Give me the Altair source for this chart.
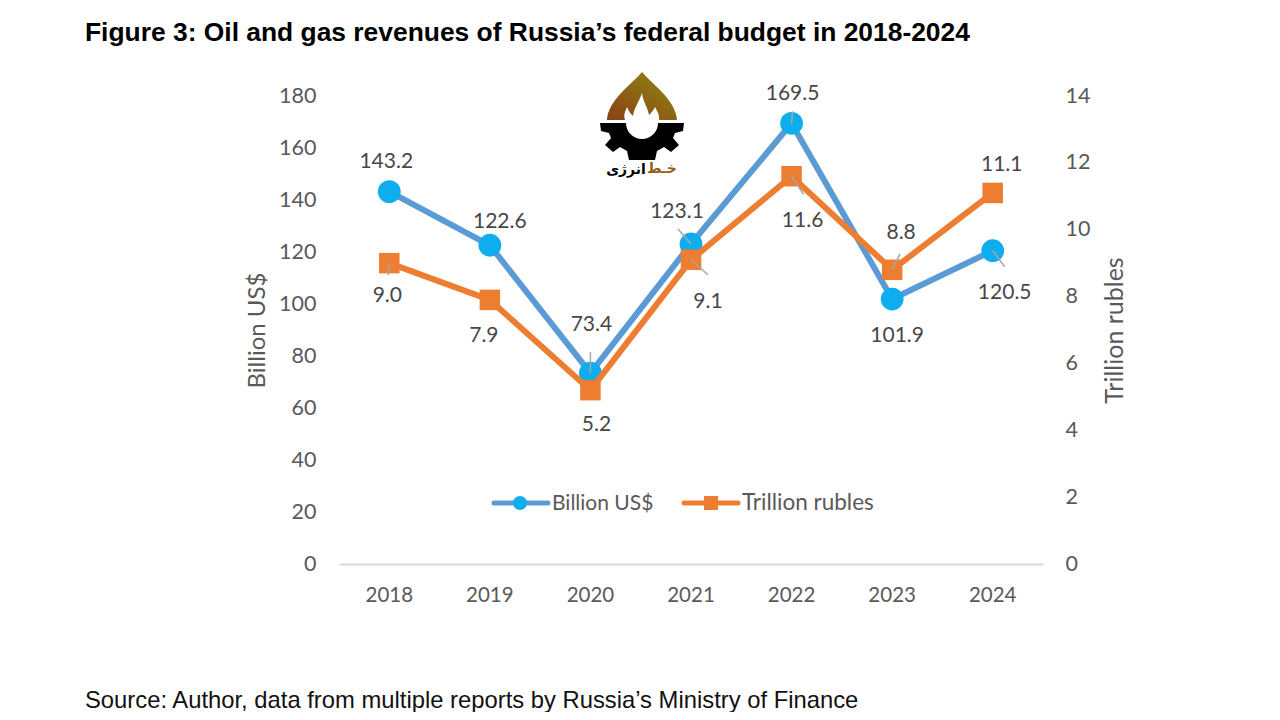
import altair as alt
import pandas as pd

years = ["2018", "2019", "2020", "2021", "2022", "2023", "2024"]
usd = [143.2, 122.6, 73.4, 123.1, 169.5, 101.9, 120.5]
rub = [9.0, 7.9, 5.2, 9.1, 11.6, 8.8, 11.1]
usd_labels = ["143.2", "122.6", "73.4", "123.1", "169.5", "101.9", "120.5"]
rub_labels = ["9.0", "7.9", "5.2", "9.1", "11.6", "8.8", "11.1"]

title_text = "Figure 3: Oil and gas revenues of Russia\u2019s federal budget in 2018-2024"
source_text = "Source: Author, data from multiple reports by Russia\u2019s Ministry of Finance"

# layout (label offsets and leader-line offsets, px)
USD_OFF = [(-3, -30), (10, -23), (1, -48), (-14, -32), (1, -29), (5, 37), (12, 42)]
RUB_OFF = [(-2, 33), (-6, 36), (6, 35), (17, 42), (11, 45), (9, -37), (9, -28)]
USD_LEAD = {2: (0, -21), 3: (-13, -15), 4: (1, -12), 6: (12, 16)}
RUB_LEAD = {0: (-1, 12), 3: (17, 15), 4: (12, 18), 5: (8, -16)}

BLUE_LINE, BLUE_DOT = "#5B9BD5", "#0EAEEE"
ORANGE = "#ED7D31"
AXIS_TEXT, LABEL_TEXT = "#595959", "#474747"
FONT = "Lato"
SANS = "Liberation Sans"

usd_df = pd.DataFrame({"year": years, "v": usd, "t": usd_labels})
rub_df = pd.DataFrame({"year": years, "v": rub, "t": rub_labels})

X = alt.X("year:N", scale=alt.Scale(type="band", paddingInner=0, paddingOuter=0),
          sort=None,
          axis=alt.Axis(title=None, labelAngle=0, labelFont=FONT, labelFontSize=20.5,
                        labelColor=AXIS_TEXT, labelPadding=21, ticks=False,
                        domainColor="#D9D9D9", domainWidth=2, grid=False))


def y_enc(domain, axis):
    return alt.Y("v:Q", scale=alt.Scale(domain=domain, nice=False, zero=True), axis=axis)


Y_L = y_enc([0, 180], alt.Axis(orient="left", title="Billion US$", values=list(range(0, 181, 20)),
                               grid=False, domain=False, ticks=False, labelFont=FONT,
                               labelFontSize=21.5, labelColor=AXIS_TEXT, labelPadding=23,
                               titleFont=FONT, titleFontSize=24, titleFontWeight="normal",
                               titleColor=AXIS_TEXT, titlePadding=9, titleY=234))
Y_R = y_enc([0, 14], alt.Axis(orient="right", title="Trillion rubles", values=list(range(0, 15, 2)),
                              grid=False, domain=False, ticks=False, labelFont=FONT,
                              labelFontSize=21.5, labelColor=AXIS_TEXT, labelPadding=22,
                              titleFont=FONT, titleFontSize=25, titleFontWeight="normal",
                              titleColor=AXIS_TEXT, titleAngle=270, titlePadding=38, titleY=234))


def series(df, y, offs, leads, line_color, point):
    layers = [
        alt.Chart(df).mark_line(color=line_color, strokeWidth=6).encode(x=X, y=y),
        alt.Chart(df).mark_point(filled=True, opacity=1, **point).encode(x=X, y=y),
    ]
    for i, (dx, dy) in enumerate(offs):
        layers.append(
            alt.Chart(df.iloc[[i]]).mark_text(dx=dx, dy=dy, font=FONT, fontSize=21, color=LABEL_TEXT)
            .encode(x=X, y=y, text="t:N"))
    for i, (dx, dy) in leads.items():
        layers.append(
            alt.Chart(df.iloc[[i]]).mark_rule(color="#A6A6A6", strokeWidth=1.5, x2Offset=dx, y2Offset=dy)
            .encode(x=X, x2="year:N", y=y, y2="v:Q"))
    return alt.layer(*layers).resolve_scale(y="shared")


left = series(usd_df, Y_L, USD_OFF, USD_LEAD, BLUE_LINE,
              dict(shape="circle", size=520, color=BLUE_DOT))
right = series(rub_df, Y_R, RUB_OFF, RUB_LEAD, ORANGE,
               dict(shape="square", size=420, color=ORANGE))


def note(text, x, y, **kw):
    return alt.Chart(pd.DataFrame({"t": [text]})).mark_text(**kw).encode(
        x=alt.value(x), y=alt.value(y), text="t:N")


def px_rule(x1, x2, y, color):
    return alt.Chart(pd.DataFrame({"a": [0]})).mark_rule(color=color, strokeWidth=5, strokeCap="round").encode(
        x=alt.value(x1), x2=alt.value(x2), y=alt.value(y))


def glyph(path, x, y, **kw):
    return alt.Chart(pd.DataFrame({"a": [0]})).mark_point(
        shape=path, size=4, filled=True, opacity=1, **kw).encode(x=alt.value(x), y=alt.value(y))


LOGO_X, LOGO_Y = 303, 26
ROOF = "M0 -50 C-10 -38 -34 -22 -35 -2 L35 -2 C34 -22 10 -38 0 -50 Z"
FLAME = ("M-17 -2 C-19 -8 -16 -12 -15 -15 C-13 -10 -11 -8 -9 -6 C-8 -14 -3 -20 0 -29 "
         "C1 -20 6 -14 7 -7 C9 -9 11 -11 13 -15 C15 -11 18 -7 17 -2 Z")
GEAR = ("M-42 1 L-16 1 A16 16 0 0 0 16 1 L42 1 L41 9 L33 11 L31 16 L37 23 L29 30 L22 25 L15 29 "
        "L13 38 L-13 38 L-15 29 L-22 25 L-29 30 L-37 23 L-31 16 L-33 11 L-41 9 Z")
roof_fill = alt.LinearGradient(gradient="linear", x1=0, y1=1, x2=1, y2=0,
                               stops=[alt.GradientStop(offset=0, color="#8A4015"),
                                      alt.GradientStop(offset=1, color="#8F8A12")])

extras = [
    note(title_text, -254, -63, font=SANS, fontWeight="bold", fontSize=26.4, color="#000000", align="left"),
    note(source_text, -254, 605, font=SANS, fontSize=23.8, color="#111111", align="left"),
    glyph(ROOF, LOGO_X, LOGO_Y, color="#8A5A14", fill=roof_fill),
    glyph(FLAME, LOGO_X, LOGO_Y, color="#FFFFFF"),
    glyph(GEAR, LOGO_X, LOGO_Y, color="#000000"),
    note("\u0627\u0646\u0631\u0698\u06cc", 287, 74, font="DejaVu Sans", fontWeight="bold", fontSize=14, color="#000000"),
    note("\u062e\u0640\u0637", 323, 73, font="DejaVu Sans", fontWeight="bold", fontSize=14, color="#9A5A1A"),
    px_rule(155, 209, 407, BLUE_LINE),
    glyph("M-1 0 A1 1 0 1 0 1 0 A1 1 0 1 0 -1 0 Z", 181, 407, color=BLUE_DOT).encode(size=alt.value(196)),
    note("Billion US$", 213, 408, font=FONT, fontSize=21, color=AXIS_TEXT, align="left"),
    px_rule(345, 399, 407, ORANGE),
    glyph("M-1 -1 L1 -1 L1 1 L-1 1 Z", 372, 407, color=ORANGE).encode(size=alt.value(196)),
    note("Trillion rubles", 403, 407, font=FONT, fontSize=22.5, color=AXIS_TEXT, align="left"),
]

chart = (
    alt.layer(left, right, *extras)
    .resolve_scale(y="independent")
    .properties(width=704, height=468, background="#FFFFFF",
                autosize=alt.AutoSizeParams(type="none"),
                padding={"left": 331, "top": 88, "right": 229, "bottom": 148})
    .configure_view(stroke=None)
)
chart.save("out.html", embed_options={"renderer": "svg", "actions": False})
